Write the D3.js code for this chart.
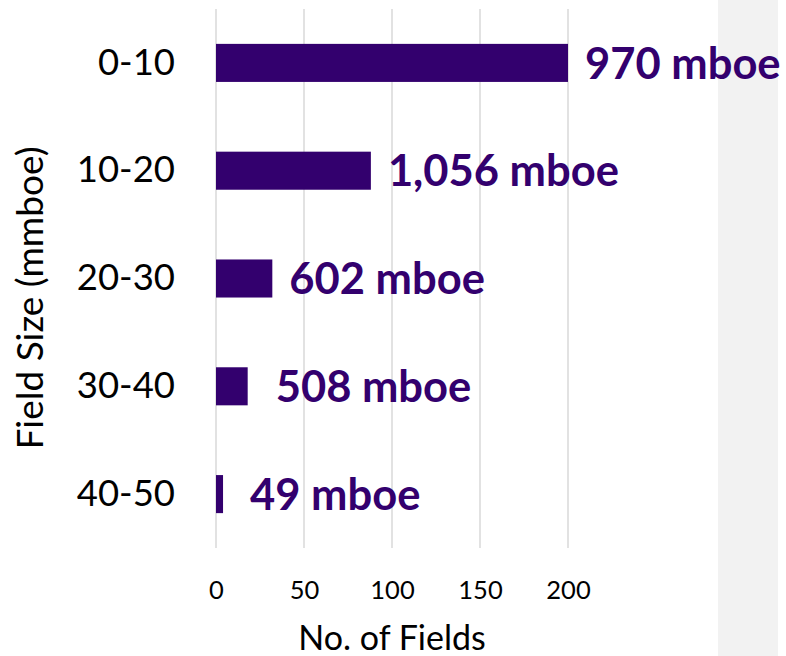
<!DOCTYPE html>
<html>
<head>
<meta charset="utf-8">
<script src="https://cdn.jsdelivr.net/npm/d3@7"></script>
<style>
  html, body { margin: 0; padding: 0; background: #fff; }
  svg { display: block; font-family: Lato, "Open Sans", sans-serif; }
</style>
</head>
<body>
<svg id="chart" width="786" height="656"></svg>
<script>
// ---- data ----
const categories = ["0-10", "10-20", "20-30", "30-40", "40-50"];
const fieldCounts = [200, 88, 32, 18, 4];
const volumeLabels = ["970 mboe", "1,056 mboe", "602 mboe", "508 mboe", "49 mboe"];
const xTicks = [0, 50, 100, 150, 200];
const xTitle = "No. of Fields";
const yTitle = "Field Size (mmboe)";

// ---- layout / style ----
const W = 786, H = 656;
const plot = { left: 216, right: 568, top: 9, bottom: 548 };
const barColor = "#33006e";
const labelOffsets = [17, 17, 17, 28, 27];

const svg = d3.select("#chart");

// grey side panel
svg.append("rect").attr("x", 718).attr("y", 0).attr("width", 60).attr("height", H)
  .attr("fill", "#f2f2f2");

const x = d3.scaleLinear().domain([0, 200]).range([plot.left, plot.right]);
const y = d3.scaleBand().domain(categories).range([plot.top, plot.bottom])
  .paddingInner(0.647).paddingOuter(0.3235);

// gridlines
svg.append("g").selectAll("line").data(xTicks).join("line")
  .attr("x1", d => x(d)).attr("x2", d => x(d))
  .attr("y1", plot.top).attr("y2", plot.bottom)
  .attr("stroke", "#d9d9d9").attr("stroke-width", 1.5);

// x axis tick labels
const xAxis = d3.axisBottom(x).tickValues(xTicks).tickSize(0).tickPadding(0);
const gx = svg.append("g").attr("transform", `translate(0, 581)`).call(xAxis);
gx.select(".domain").remove();
gx.selectAll("text").attr("font-size", 25.5).attr("fill", "#000")
  .attr("font-family", "Lato, sans-serif").attr("dy", "0.71em");

// y axis category labels
const yAxis = d3.axisLeft(y).tickSize(0).tickPadding(0);
const gy = svg.append("g").attr("transform", `translate(175, 0)`).call(yAxis);
gy.select(".domain").remove();
gy.selectAll("text").attr("font-size", 36.5).attr("fill", "#000")
  .attr("font-family", "Lato, sans-serif");

// bars
svg.append("g").selectAll("rect").data(categories).join("rect")
  .attr("x", x(0))
  .attr("y", d => y(d))
  .attr("width", (d, i) => x(fieldCounts[i]) - x(0))
  .attr("height", y.bandwidth())
  .attr("fill", barColor);

// value labels
svg.append("g").selectAll("text").data(categories).join("text")
  .attr("x", (d, i) => x(fieldCounts[i]) + labelOffsets[i])
  .attr("y", d => y(d) + y.bandwidth() / 2)
  .attr("dy", "0.36em")
  .attr("font-size", 43.5).attr("font-weight", "bold")
  .attr("fill", barColor)
  .text((d, i) => volumeLabels[i]);

// axis titles
svg.append("text").attr("x", (plot.left + plot.right) / 2).attr("y", 650)
  .attr("text-anchor", "middle").attr("font-size", 34).attr("fill", "#000")
  .text(xTitle);

svg.append("text")
  .attr("transform", `translate(43, 298) rotate(-90)`)
  .attr("text-anchor", "middle").attr("font-size", 37).attr("fill", "#000")
  .text(yTitle);
</script>
</body>
</html>
